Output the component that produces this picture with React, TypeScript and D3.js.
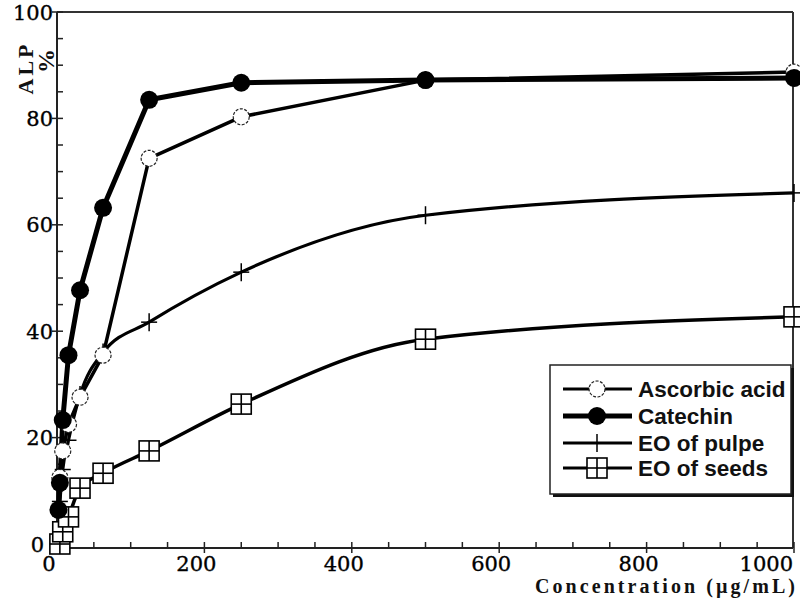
import React from "react";
import * as d3 from "d3";

// Concentrations (µg/mL)
const conc = [3.9, 7.8, 15.6, 31.25, 62.5, 125, 250, 500, 1000];
const catechinConc = [1.95, 3.9, 7.8, 15.6, 31.25, 62.5, 125, 250, 500, 1000];

// ALP % values
const ascorbicAcid = [12.5, 17.5, 22.5, 27.6, 35.5, 72.5, 80.3, 87.2, 88.7];
const catechin = [6.4, 11.5, 23.3, 35.5, 47.7, 63.2, 83.5, 86.7, 87.2, 87.6];
const eoPulpe = [8, 14, 19.5, 28, 36, 41.7, 51.1, 61.8, 66];
const eoSeeds = [0, 2.3, 5.1, 10.5, 13.3, 17.5, 26.3, 38.5, 42.7];

const xTicks = [0, 200, 400, 600, 800, 1000];
const yTicks = [0, 20, 40, 60, 80, 100];
const legendLabels = ["Ascorbic acid", "Catechin", "EO of pulpe", "EO of seeds"];

type Kind = "open" | "filled" | "plus" | "square";

function Marker({ kind, cx, cy }: { kind: Kind; cx: number; cy: number }) {
  if (kind === "open")
    return (
      <circle cx={cx} cy={cy} r={8} fill="#fff" stroke="#222" strokeWidth={1.2} strokeDasharray="3,1.5" />
    );
  if (kind === "filled") return <circle cx={cx} cy={cy} r={9} fill="#000" />;
  if (kind === "plus")
    return (
      <g stroke="#000" strokeWidth={1.5}>
        <line x1={cx - 8} x2={cx + 8} y1={cy} y2={cy} />
        <line x1={cx} x2={cx} y1={cy - 9} y2={cy + 9} />
      </g>
    );
  const h = 10;
  return (
    <g stroke="#000" strokeWidth={1.6}>
      <rect x={cx - h} y={cy - h} width={2 * h} height={2 * h} fill="#fff" />
      <line x1={cx - h} x2={cx + h} y1={cy} y2={cy} />
      <line x1={cx} x2={cx} y1={cy - h} y2={cy + h} />
    </g>
  );
}

export default function App() {
  const W = 800;
  const H = 600;
  const x = d3.scaleLinear().domain([0, 1000]).range([57, 794]);
  const y = d3.scaleLinear().domain([-0.75, 100]).range([548, 12]);
  const x0 = x(0);
  const yB = y(-0.75);
  const xR = 793;
  const yT = y(100);

  const series: { xs: number[]; ys: number[]; kind: Kind; width: number; smooth: boolean }[] = [
    { xs: conc, ys: eoSeeds, kind: "square", width: 3.5, smooth: true },
    { xs: conc, ys: eoPulpe, kind: "plus", width: 3.2, smooth: true },
    { xs: conc, ys: ascorbicAcid, kind: "open", width: 3.5, smooth: false },
    { xs: catechinConc, ys: catechin, kind: "filled", width: 5, smooth: false },
  ];

  const smoothLine = d3
    .line<[number, number]>()
    .x((d) => x(d[0]))
    .y((d) => y(d[1]))
    .curve(d3.curveMonotoneX);
  const straightLine = d3
    .line<[number, number]>()
    .x((d) => x(d[0]))
    .y((d) => y(d[1]));

  const minorX = d3.range(0, 1001, 50).filter((v) => v % 200 !== 0);
  const minorY = d3.range(0, 101, 5).filter((v) => v % 20 !== 0);

  const legendKinds: Kind[] = ["open", "filled", "plus", "square"];
  const legendWidths = [3, 5, 3, 3];
  const legendRows = [389, 416, 443, 468];

  return (
    <svg
      width={W}
      height={H}
      style={{ position: "absolute", left: 0, top: 0, background: "#fff" }}
    >
      <rect x={0} y={0} width={W} height={H} fill="#fff" />
      {/* frame */}
      <line x1={x0} x2={xR} y1={yT} y2={yT} stroke="#333" strokeWidth={2} />
      <line x1={xR} x2={xR} y1={yT} y2={yB} stroke="#333" strokeWidth={2} />
      <line x1={x0} x2={xR} y1={yB} y2={yB} stroke="#222" strokeWidth={2} />
      <line x1={x0} x2={x0} y1={yT} y2={yB} stroke="#222" strokeWidth={2} />

      {/* x ticks */}
      {xTicks.map((t) => (
        <line key={"xt" + t} x1={x(t)} x2={x(t)} y1={yB - 6} y2={yB + 5} stroke="#222" strokeWidth={1.5} />
      ))}
      {minorX.map((t) => (
        <line key={"xm" + t} x1={x(t)} x2={x(t)} y1={yB - 6} y2={yB} stroke="#222" strokeWidth={1.5} />
      ))}
      {xTicks.map((t) => (
        <text
          key={"xl" + t}
          x={t === 1000 ? 793 : x(t) - 8}
          y={571}
          textAnchor={t === 1000 ? "end" : "middle"}
          fontFamily="DejaVu Serif"
          fontSize={21}
          fill="#000"
          stroke="#000"
          strokeWidth={0.35}
        >
          {t}
        </text>
      ))}

      {/* y ticks */}
      {yTicks.map((t) => (
        <line key={"yt" + t} x1={x0 - 5} x2={x0 + 6} y1={y(t)} y2={y(t)} stroke="#222" strokeWidth={1.5} />
      ))}
      {minorY.map((t) => (
        <line key={"ym" + t} x1={x0} x2={x0 + 6} y1={y(t)} y2={y(t)} stroke="#222" strokeWidth={1.5} />
      ))}
      {yTicks.map((t) => (
        <text
          key={"yl" + t}
          x={t === 0 ? 44 : 53}
          y={y(t)}
          dy="0.36em"
          textAnchor="end"
          fontFamily="DejaVu Serif"
          fontSize={21}
          fill="#000"
          stroke="#000"
          strokeWidth={0.35}
        >
          {t}
        </text>
      ))}

      {/* axis titles */}
      <text
        x={535}
        y={593}
        textLength={260}
        lengthAdjust="spacing"
        fontFamily="Liberation Serif"
        fontWeight="bold"
        fontSize={20}
        fill="#111"
      >
        Concentration (µg/mL)
      </text>
      <text
        transform="translate(33,68) rotate(-90)"
        textAnchor="middle"
        fontFamily="Liberation Serif"
        fontWeight="bold"
        fontSize={22}
        letterSpacing={3}
        fill="#111"
      >
        ALP
      </text>
      <text
        transform="translate(54,61) rotate(-90)"
        textAnchor="middle"
        fontFamily="Liberation Serif"
        fontWeight="bold"
        fontSize={24}
        fill="#111"
      >
        %
      </text>

      {/* series lines */}
      {series.map((s, i) => {
        const pts = s.xs.map((v, j) => [v, s.ys[j]] as [number, number]);
        return (
          <path
            key={"l" + i}
            d={(s.smooth ? smoothLine(pts) : straightLine(pts)) || ""}
            fill="none"
            stroke="#000"
            strokeWidth={s.width}
            strokeLinejoin="round"
          />
        );
      })}
      {/* markers */}
      {series.map((s, i) => (
        <g key={"m" + i}>
          {s.xs.map((v, j) => (
            <Marker key={j} kind={s.kind} cx={x(v)} cy={y(s.ys[j])} />
          ))}
        </g>
      ))}

      {/* legend */}
      <rect x={553} y={368} width={241} height={129} fill="#111" />
      <rect x={550} y={365} width={241} height={129} fill="#fff" stroke="#222" strokeWidth={1.5} />
      {legendLabels.map((lab, i) => (
        <g key={"lg" + i}>
          <line x1={563} x2={632} y1={legendRows[i]} y2={legendRows[i]} stroke="#000" strokeWidth={legendWidths[i]} />
          <Marker kind={legendKinds[i]} cx={597} cy={legendRows[i]} />
          <text
            x={638}
            y={legendRows[i]}
            dy="0.36em"
            fontFamily="Liberation Sans"
            fontWeight="bold"
            fontSize={22.5}
            fill="#111"
          >
            {lab}
          </text>
        </g>
      ))}
    </svg>
  );
}
